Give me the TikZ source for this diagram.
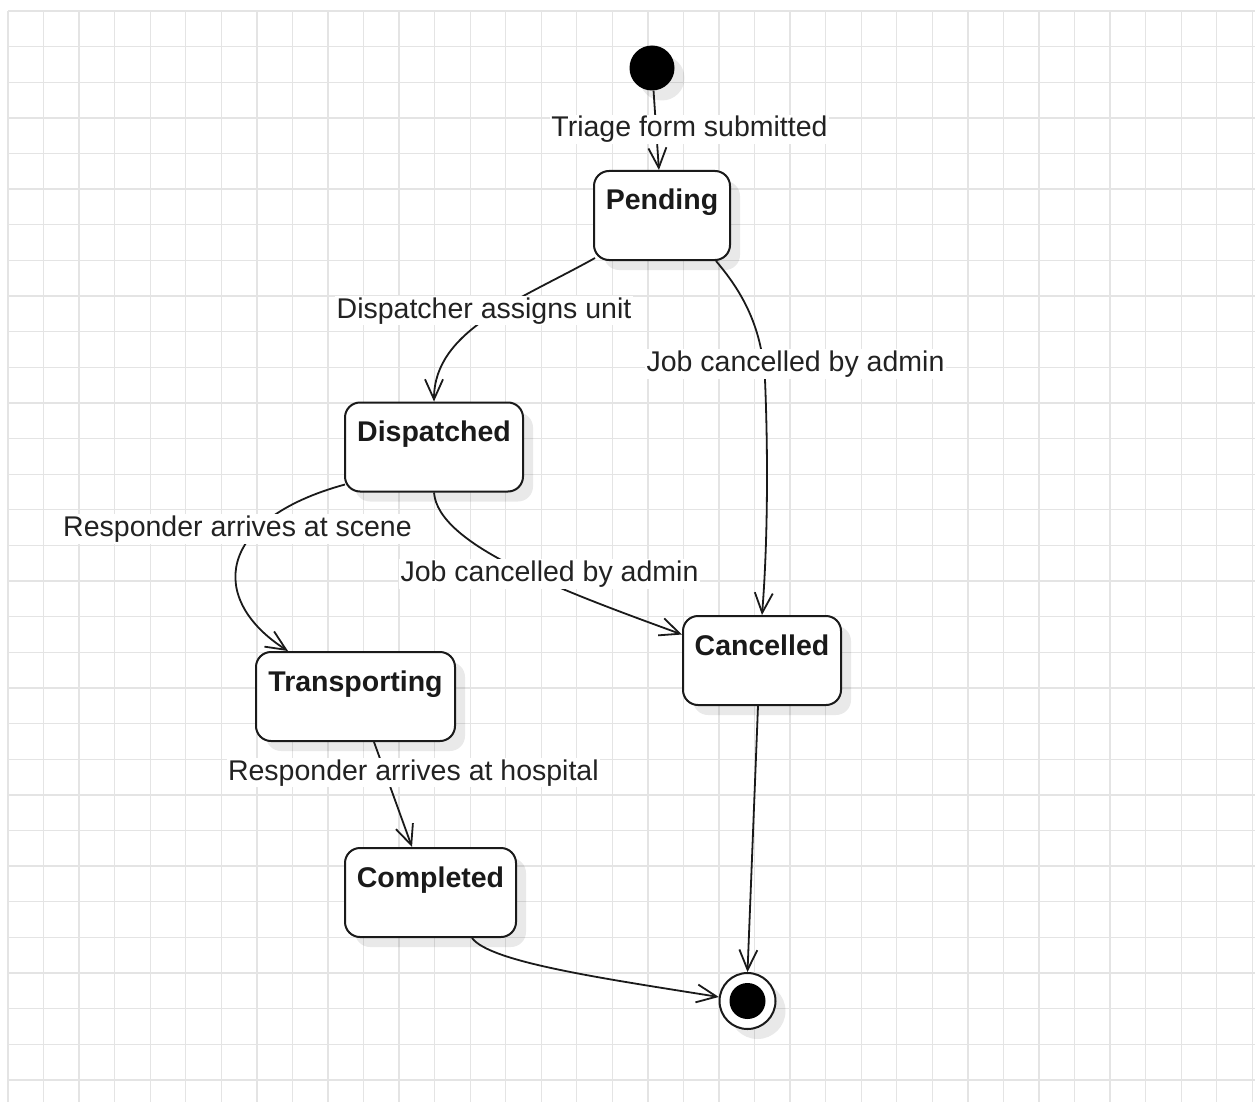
\documentclass[tikz,border=0pt]{standalone}
\usepackage{fontspec}
\setmainfont{Liberation Sans}
\usetikzlibrary{arrows.meta,shadows,calc}
\definecolor{gridline}{HTML}{E4E4E4}
\definecolor{ink}{HTML}{1A1A1A}
\definecolor{labelink}{HTML}{222222}
\begin{document}
\begin{tikzpicture}[x=1pt,y=-1pt,
  every node/.style={font=\fontsize{28.5}{34}\selectfont},
  softshadow/.style={drop shadow={shadow xshift=10pt,shadow yshift=-10pt,fill=black,opacity=0.085}},
  statebox/.style={draw=ink,line width=2pt,rounded corners=15pt,fill=white,
    inner xsep=0pt,inner ysep=0pt,text height=39pt,text depth=50pt,
    font=\bfseries\fontsize{28.5}{34}\selectfont,text=ink,softshadow},
  initstate/.style={circle,fill=black,minimum size=45pt,inner sep=0pt,softshadow},
  finalstate/.style={circle,draw=ink,line width=2pt,fill=white,minimum size=56pt,inner sep=0pt,
    path picture={\fill[black] (path picture bounding box.center) circle[radius=18pt];},softshadow},
  transition/.style={draw=ink,line width=1.8pt,-{Straight Barb[length=20pt,width=18pt]}},
  edgelabel/.style={fill=white,inner xsep=1.5pt,inner ysep=1.5pt,text=labelink,anchor=base}]

% canvas and grid paper
\fill[white] (0,0) rectangle (1255,1102);
\useasboundingbox (0,0) rectangle (1255,1102);
\begin{scope}[draw=gridline,line width=1.3pt]
  \foreach \k in {0,...,35} \draw ({8+35.55*\k},11) -- ({8+35.55*\k},1102);
  \foreach \k in {0,...,30} \draw (8,{11+35.63*\k}) -- (1255,{11+35.63*\k});
\end{scope}

% states
\node[initstate] (init) at (652,68) {};
\node[statebox,minimum width=136pt] (pending) at (662,215.5) {Pending};
\node[statebox,minimum width=178pt] (dispatched) at (434,447) {Dispatched};
\node[statebox,minimum width=199pt] (transporting) at (355.5,696.5) {Transporting};
\node[statebox,minimum width=171pt] (completed) at (430.5,892.5) {Completed};
\node[statebox,minimum width=158pt] (cancelled) at (762,660.5) {Cancelled};
\node[finalstate] (final) at (747.5,1001) {};

% transitions
\draw[transition] (init) -- (pending);
\draw[transition] ($(pending.south west)+(2,-3)$) .. controls (520,300) and (434,330) .. (dispatched.north);
\draw[transition] ($(pending.south)+(54,0)$) .. controls (745,295) and (762,330) .. (765,380)
  .. controls (768,450) and (768,540) .. (cancelled.north);
\draw[transition] ($(dispatched.south west)+(1,-8)$) .. controls (215,520) and (208,600) .. ($(transporting.north west)+(33,0)$);
\draw[transition] (dispatched.south) .. controls (438,545) and (560,590) .. ($(cancelled.west)+(0,-26)$);
\draw[transition] ($(transporting.south)+(18.5,0)$) -- ($(completed.north)+(-18.5,0)$);
\draw[transition] ($(cancelled.south)+(-4,0)$) -- (final.north);
\draw[transition] ($(completed.south)+(41.5,0)$) .. controls (490,962) and (600,978) .. (final.172);

% transition labels
\node[edgelabel] (lblsubmit) at (689.5,137) {Triage form submitted};
\node[edgelabel] (lblassign) at (484,318) {Dispatcher assigns unit};
\node[edgelabel] (lblcancel1) at (795.5,371.5) {Job cancelled by admin};
\node[edgelabel] (lblscene) at (237.5,536.5) {Responder arrives at scene};
\node[edgelabel] (lblcancel2) at (549.5,581.5) {Job cancelled by admin};
\node[edgelabel] (lblhospital) at (413.4,780) {Responder arrives at hospital};
\end{tikzpicture}
\end{document}
